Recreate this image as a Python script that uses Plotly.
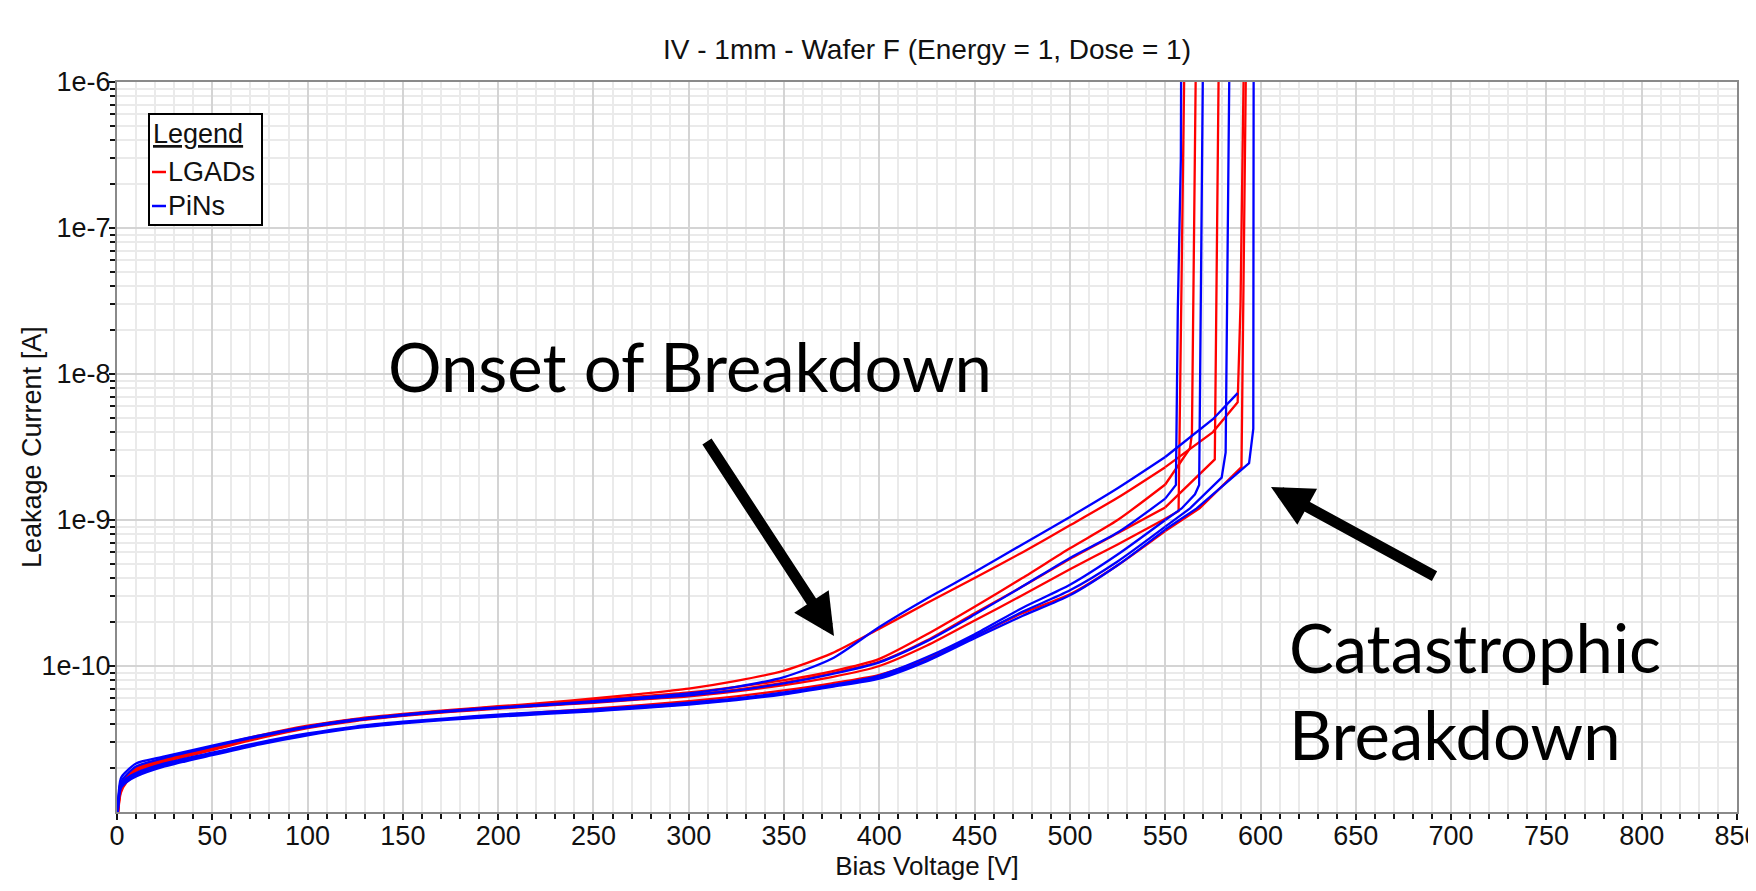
import plotly.graph_objects as go

# ---------------- data ----------------
V_GRID = [0, 2, 5, 10, 25, 50, 75, 100, 125, 150, 175, 200, 225, 250, 275,
          300, 325, 350, 375, 400, 425, 450, 475, 500, 525, 550]

# LGADs (red)
LGAD_A_I = [8e-12, 1.5e-11, 1.75e-11, 2.0e-11, 2.3e-11, 2.8e-11, 3.35e-11, 3.9e-11, 4.35e-11, 4.7e-11,
            5.0e-11, 5.3e-11, 5.6e-11, 6.0e-11, 6.45e-11, 7.0e-11, 7.9e-11, 9.3e-11, 1.22e-10, 1.8e-10,
            2.7e-10, 4.0e-10, 6.0e-10, 9.2e-10, 1.42e-9, 2.3e-9]
LGAD_A_TAIL_V = [575, 588, 589.5, 591.4]
LGAD_A_TAIL_I = [4.0e-9, 6.4e-9, 3.0e-8, 2e-6]

LGAD_B_I = [8e-12, 1.45e-11, 1.7e-11, 1.95e-11, 2.25e-11, 2.75e-11, 3.3e-11, 3.85e-11, 4.3e-11, 4.65e-11,
            4.95e-11, 5.25e-11, 5.5e-11, 5.85e-11, 6.2e-11, 6.6e-11, 7.2e-11, 8.0e-11, 9.2e-11, 1.12e-10,
            1.65e-10, 2.55e-10, 4.0e-10, 6.4e-10, 1.0e-9, 1.75e-9]
LGAD_B_TAIL_V = [563, 564, 566.2]
LGAD_B_TAIL_I = [3.1e-9, 3.9e-9, 2e-6]

LGAD_C_I = [8e-12, 1.45e-11, 1.7e-11, 1.95e-11, 2.25e-11, 2.7e-11, 3.25e-11, 3.8e-11, 4.25e-11, 4.6e-11,
            4.9e-11, 5.15e-11, 5.4e-11, 5.7e-11, 6.0e-11, 6.35e-11, 6.9e-11, 7.7e-11, 8.9e-11, 1.07e-10,
            1.5e-10, 2.3e-10, 3.5e-10, 5.4e-10, 8.1e-10, 1.22e-9]
LGAD_C_TAIL_V = [576, 578.2]
LGAD_C_TAIL_I = [2.6e-9, 2e-6]

LGAD_D_I = [8e-12, 1.4e-11, 1.65e-11, 1.9e-11, 2.2e-11, 2.65e-11, 3.2e-11, 3.75e-11, 4.2e-11, 4.55e-11,
            4.85e-11, 5.1e-11, 5.35e-11, 5.6e-11, 5.9e-11, 6.2e-11, 6.7e-11, 7.4e-11, 8.4e-11, 1.0e-10,
            1.38e-10, 2.05e-10, 3.05e-10, 4.6e-10, 6.8e-10, 1.02e-9]
LGAD_D_TAIL_V = [557, 560.2]
LGAD_D_TAIL_I = [1.15e-9, 2e-6]

LGAD_E_I = [8e-12, 1.35e-11, 1.6e-11, 1.8e-11, 2.1e-11, 2.5e-11, 2.95e-11, 3.4e-11, 3.8e-11, 4.1e-11,
            4.35e-11, 4.6e-11, 4.85e-11, 5.1e-11, 5.4e-11, 5.75e-11, 6.2e-11, 6.8e-11, 7.6e-11, 8.7e-11,
            1.12e-10, 1.6e-10, 2.3e-10, 3.1e-10, 4.9e-10, 8.4e-10]
LGAD_E_TAIL_V = [568, 590, 592.5]
LGAD_E_TAIL_I = [1.2e-9, 2.3e-9, 2e-6]

# PiNs (blue)
PIN_A_I = [8e-12, 1.7e-11, 1.9e-11, 2.15e-11, 2.4e-11, 2.85e-11, 3.35e-11, 3.85e-11, 4.3e-11, 4.65e-11,
           4.95e-11, 5.2e-11, 5.45e-11, 5.75e-11, 6.1e-11, 6.5e-11, 7.2e-11, 8.4e-11, 1.12e-10, 1.85e-10,
           2.9e-10, 4.4e-10, 6.8e-10, 1.05e-9, 1.65e-9, 2.7e-9]
PIN_A_TAIL_V = [575, 588]
PIN_A_TAIL_I = [4.9e-9, 7.4e-9]

PIN_B_I = [8e-12, 1.6e-11, 1.8e-11, 2.05e-11, 2.35e-11, 2.8e-11, 3.3e-11, 3.8e-11, 4.25e-11, 4.6e-11,
           4.9e-11, 5.15e-11, 5.4e-11, 5.65e-11, 5.95e-11, 6.3e-11, 6.8e-11, 7.6e-11, 8.8e-11, 1.06e-10,
           1.48e-10, 2.25e-10, 3.5e-10, 5.5e-10, 8.2e-10, 1.4e-9]
PIN_B_TAIL_V = [555.6, 556.6, 558.2, 558.4]
PIN_B_TAIL_I = [1.74e-9, 2.75e-8, 3e-7, 2e-6]

PIN_C_I = [8e-12, 1.55e-11, 1.7e-11, 1.85e-11, 2.15e-11, 2.55e-11, 3.0e-11, 3.45e-11, 3.85e-11, 4.15e-11,
           4.4e-11, 4.65e-11, 4.85e-11, 5.05e-11, 5.3e-11, 5.6e-11, 6.0e-11, 6.6e-11, 7.4e-11, 8.6e-11,
           1.15e-10, 1.65e-10, 2.5e-10, 3.6e-10, 5.8e-10, 1.0e-9]
PIN_C_TAIL_V = [558.6, 565.6, 567.8, 569.9]
PIN_C_TAIL_I = [1.2e-9, 1.5e-9, 1.74e-9, 2e-6]

PIN_D_I = [8e-12, 1.5e-11, 1.65e-11, 1.8e-11, 2.1e-11, 2.5e-11, 2.95e-11, 3.4e-11, 3.8e-11, 4.1e-11,
           4.35e-11, 4.55e-11, 4.75e-11, 4.95e-11, 5.2e-11, 5.5e-11, 5.9e-11, 6.5e-11, 7.3e-11, 8.4e-11,
           1.1e-10, 1.6e-10, 2.35e-10, 3.3e-10, 5.2e-10, 9.0e-10]
PIN_D_TAIL_V = [563, 579.6, 581.7, 583.8]
PIN_D_TAIL_I = [1.2e-9, 1.95e-9, 2.9e-9, 2e-6]

PIN_E_I = [8e-12, 1.45e-11, 1.6e-11, 1.75e-11, 2.05e-11, 2.45e-11, 2.9e-11, 3.35e-11, 3.75e-11, 4.05e-11,
           4.3e-11, 4.5e-11, 4.7e-11, 4.9e-11, 5.15e-11, 5.45e-11, 5.85e-11, 6.4e-11, 7.2e-11, 8.2e-11,
           1.08e-10, 1.55e-10, 2.2e-10, 3.05e-10, 4.9e-10, 8.6e-10]
PIN_E_TAIL_V = [566.5, 594, 596.2, 596.4]
PIN_E_TAIL_I = [1.2e-9, 2.45e-9, 4.2e-9, 2e-6]

X_TICKS = list(range(0, 851, 50))
Y_TICK_VALS = [1e-10, 1e-9, 1e-8, 1e-7, 1e-6]
Y_TICK_TEXT = ["1e-10", "1e-9", "1e-8", "1e-7", "1e-6"]

TITLE = "IV - 1mm - Wafer F (Energy = 1, Dose = 1)"
X_TITLE = "Bias Voltage [V]"
Y_TITLE = "Leakage Current [A]"
SERIES_NAMES = ["LGADs", "PiNs"]
SERIES_COLORS = ["#FF0000", "#0000FF"]

# ---------------- geometry ----------------
# The page body has an 8px default margin, so the figure is 8px smaller
# than the window and all page coordinates are offset by 8px.
OFF = 8
PAGE_W, PAGE_H = 1756, 891
W, H = PAGE_W - OFF, PAGE_H - OFF
X0, X1, Y0, Y1 = 117, 1737, 82, 812          # plot area in page pixels
ML, MR, MT, MB = X0 - OFF, PAGE_W - X1, Y0 - OFF, PAGE_H - Y1
PW, PH = X1 - X0, Y1 - Y0


def px(x):
    return (x - X0) / PW


def py(y):
    return (Y1 - y) / PH


FONT = "Liberation Sans, Arial, Helvetica, sans-serif"
BIG = "Lato, Calibri, Carlito, sans-serif"

fig = go.Figure()

lgad_curves = [(LGAD_A_I, LGAD_A_TAIL_V, LGAD_A_TAIL_I), (LGAD_B_I, LGAD_B_TAIL_V, LGAD_B_TAIL_I),
               (LGAD_C_I, LGAD_C_TAIL_V, LGAD_C_TAIL_I), (LGAD_D_I, LGAD_D_TAIL_V, LGAD_D_TAIL_I),
               (LGAD_E_I, LGAD_E_TAIL_V, LGAD_E_TAIL_I)]
pin_curves = [(PIN_A_I, PIN_A_TAIL_V, PIN_A_TAIL_I), (PIN_B_I, PIN_B_TAIL_V, PIN_B_TAIL_I),
              (PIN_C_I, PIN_C_TAIL_V, PIN_C_TAIL_I), (PIN_D_I, PIN_D_TAIL_V, PIN_D_TAIL_I),
              (PIN_E_I, PIN_E_TAIL_V, PIN_E_TAIL_I)]

for name, color, curves in [(SERIES_NAMES[0], SERIES_COLORS[0], lgad_curves),
                            (SERIES_NAMES[1], SERIES_COLORS[1], pin_curves)]:
    for ivals, tv, ti in curves:
        # smooth body of the IV curve
        fig.add_trace(go.Scatter(
            x=V_GRID, y=ivals, mode="lines", name=name, legendgroup=name, showlegend=False,
            line=dict(color=color, width=2.3, shape="spline", smoothing=0.7),
        ))
        # breakdown tail (straight segments)
        fig.add_trace(go.Scatter(
            x=V_GRID[-1:] + tv, y=ivals[-1:] + ti, mode="lines", name=name, legendgroup=name,
            showlegend=False, line=dict(color=color, width=2.3),
        ))

minor_y = [m * 10.0 ** e for e in range(-11, -6) for m in range(2, 10)]

fig.update_layout(
    width=W, height=H,
    margin=dict(l=ML, r=MR, t=MT, b=MB, pad=0, autoexpand=False),
    paper_bgcolor="white", plot_bgcolor="white",
    font=dict(family=FONT, size=26, color="#111111"),
    title=dict(text=TITLE, x=0.5, xref="paper", xanchor="center",
               y=1 - (49 - OFF) / H, yref="container", yanchor="middle",
               font=dict(family=FONT, size=28, color="#111111")),
    showlegend=False,
    xaxis=dict(
        range=[0, 850], tickvals=X_TICKS, ticks="outside", ticklen=6, tickwidth=2, tickcolor="#111111",
        showline=True, linecolor="#8a8a8a", linewidth=2, mirror=True, automargin=False,
        showgrid=True, gridcolor="#d4d4d4", gridwidth=1.5, zeroline=False,
        tickfont=dict(size=27, family=FONT), ticklabelstandoff=-7, ticklabeloverflow="allow",
        title=dict(text=X_TITLE, font=dict(size=26, family=FONT), standoff=4),
        minor=dict(dtick=10, ticks="outside", ticklen=5, tickwidth=2, tickcolor="#111111",
                   showgrid=True, gridcolor="#eaeaea", gridwidth=1.5),
    ),
    yaxis=dict(
        type="log", range=[-11, -6], tickvals=Y_TICK_VALS, ticktext=Y_TICK_TEXT,
        ticks="outside", ticklen=6, tickwidth=2, tickcolor="#111111",
        showline=True, linecolor="#8a8a8a", linewidth=2, mirror=True, automargin=False,
        showgrid=True, gridcolor="#d4d4d4", gridwidth=1.5, zeroline=False,
        tickfont=dict(size=27, family=FONT), ticklabelstandoff=-7, ticklabeloverflow="allow",
        minor=dict(tickmode="array", tickvals=minor_y, ticks="outside", ticklen=5, tickwidth=2,
                   tickcolor="#111111", showgrid=True, gridcolor="#eaeaea", gridwidth=1.5),
    ),
)

# y-axis title placed as a rotated annotation for exact positioning
fig.add_annotation(text=Y_TITLE, xref="paper", yref="paper", x=px(32), y=py(447),
                   xanchor="center", yanchor="middle", textangle=-90, showarrow=False,
                   font=dict(family=FONT, size=27, color="#111111"))

# ---------------- custom legend ----------------
fig.add_shape(type="rect", xref="paper", yref="paper",
              x0=px(149), x1=px(262), y0=py(225), y1=py(114),
              line=dict(color="black", width=2), fillcolor="white", layer="above")
for color, yy in [(SERIES_COLORS[0], 172), (SERIES_COLORS[1], 206)]:
    fig.add_shape(type="line", xref="paper", yref="paper",
                  x0=px(152), x1=px(166), y0=py(yy), y1=py(yy),
                  line=dict(color=color, width=2.5), layer="above")
fig.add_annotation(text="<u>Legend</u>", xref="paper", yref="paper", x=px(151), y=py(134),
                   xanchor="left", yanchor="middle", showarrow=False,
                   font=dict(family=FONT, size=27, color="#111111"))
for name, yy in [(SERIES_NAMES[0], 172), (SERIES_NAMES[1], 206)]:
    fig.add_annotation(text=name, xref="paper", yref="paper", x=px(166), y=py(yy),
                       xanchor="left", yanchor="middle", showarrow=False,
                       font=dict(family=FONT, size=27, color="#111111"))

# ---------------- call-outs ----------------
fig.add_annotation(text="Onset of Breakdown", xref="paper", yref="paper", x=px(386), y=py(366),
                   xanchor="left", yanchor="middle", showarrow=False,
                   font=dict(family=BIG, size=67, color="black"))
fig.add_annotation(text="Catastrophic<br>Breakdown", xref="paper", yref="paper", x=px(1287), y=py(690),
                   xanchor="left", yanchor="middle", align="left", showarrow=False,
                   font=dict(family=BIG, size=67, color="black"))
fig.add_annotation(text="", xref="paper", yref="paper", x=px(834), y=py(636),
                   axref="pixel", ayref="pixel", ax=-128, ay=-196,
                   showarrow=True, arrowhead=2, arrowsize=0.75, arrowwidth=11, arrowcolor="black")
fig.add_annotation(text="", xref="paper", yref="paper", x=px(1271), y=py(487),
                   axref="pixel", ayref="pixel", ax=165, ay=90,
                   showarrow=True, arrowhead=2, arrowsize=0.75, arrowwidth=11, arrowcolor="black")

fig.write_html("out.html")
